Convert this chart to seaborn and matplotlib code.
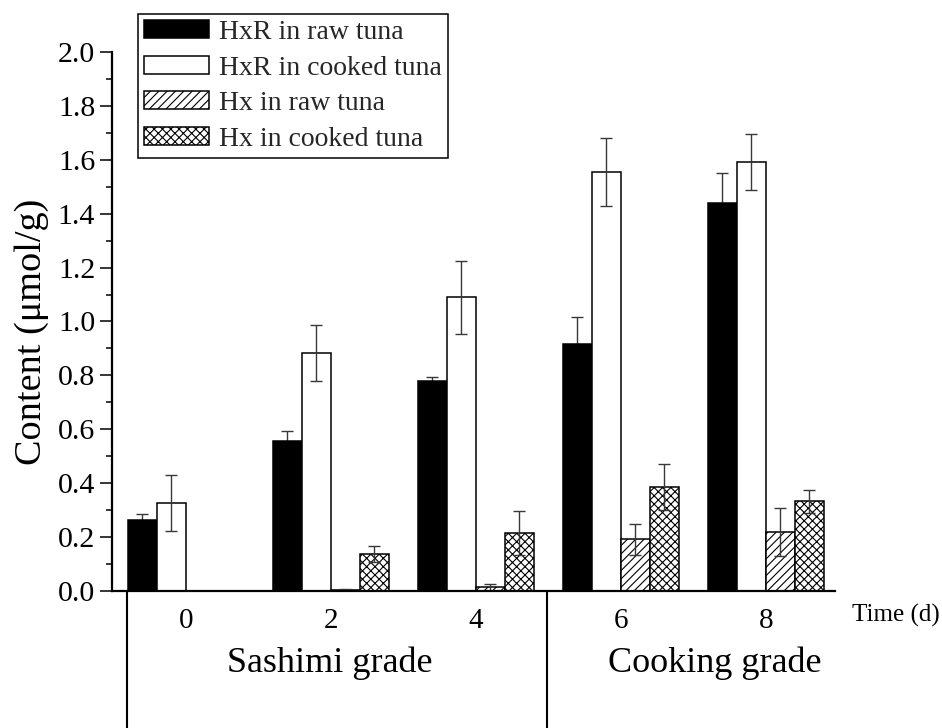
import numpy as np
import pandas as pd
import matplotlib
matplotlib.use("Agg")
import matplotlib.pyplot as plt
import matplotlib.transforms as mtransforms
from matplotlib.ticker import MultipleLocator
from matplotlib.patches import Patch
import seaborn as sns

# ---------------- data ----------------
days = ["0", "2", "4", "6", "8"]
series = ["HxR in raw tuna", "HxR in cooked tuna", "Hx in raw tuna", "Hx in cooked tuna"]
hxr_raw = [0.262, 0.557, 0.779, 0.918, 1.438]
hxr_raw_err = [0.022, 0.036, 0.016, 0.100, 0.113]
hxr_cooked = [0.326, 0.882, 1.090, 1.555, 1.591]
hxr_cooked_err = [0.104, 0.104, 0.136, 0.127, 0.104]
hx_raw = [0.0, 0.005, 0.013, 0.192, 0.219]
hx_raw_err = [np.nan, 0.002, 0.012, 0.057, 0.088]
hx_cooked = [0.0, 0.137, 0.215, 0.387, 0.333]
hx_cooked_err = [np.nan, 0.030, 0.080, 0.085, 0.042]
groups = ["Sashimi grade", "Cooking grade"]

values = [hxr_raw, hxr_cooked, hx_raw, hx_cooked]
errors = [hxr_raw_err, hxr_cooked_err, hx_raw_err, hx_cooked_err]

rows = []
for s, vals, errs in zip(series, values, errors):
    for d, v, e in zip(days, vals, errs):
        rows.append({"Time": d, "Series": s, "Content": v, "Err": e})
df = pd.DataFrame(rows)

# ---------------- style ----------------
sns.set_style("ticks")
plt.rcParams["font.family"] = ["Liberation Serif", "DejaVu Serif"]
plt.rcParams["hatch.linewidth"] = 0.8
plt.rcParams["hatch.color"] = "black"

fig = plt.figure(figsize=(9.42, 7.28), dpi=100)
ax = fig.add_axes([112 / 942, 1 - 591 / 728, 723 / 942, 539 / 728])

fills = ["black", "white", "white", "white"]
hatches = [None, None, "////", "xxxx"]

sns.barplot(data=df, x="Time", y="Content", hue="Series", order=days,
            hue_order=series, palette=fills, errorbar=None, width=0.8,
            saturation=1, edgecolor="black", linewidth=1.1, ax=ax, legend=False)

for i, (cont, h, s, errs) in enumerate(zip(ax.containers, hatches, series, errors)):
    xs, hs = [], []
    for patch in cont.patches:
        if h:
            patch.set_hatch(h)
        patch.set_edgecolor("black")
        patch.set_zorder(2)
        xs.append(patch.get_x() + patch.get_width() / 2)
        hs.append(patch.get_height())
    xs = np.array(xs); hs = np.array(hs); e = np.array(errs, dtype=float)
    ok = ~np.isnan(e)
    z = 1 if fills[i] == "black" else 5
    ax.errorbar(xs[ok], hs[ok], yerr=e[ok], fmt="none", ecolor="#383838",
                elinewidth=1.0, capsize=4.3, capthick=1.0, zorder=z)

# ---------------- axes ----------------
ax.set_ylim(0, 2.0)
ax.set_xlim(-0.51, 4.476)
ax.yaxis.set_major_locator(MultipleLocator(0.2))
ax.yaxis.set_minor_locator(MultipleLocator(0.1))
ax.yaxis.set_major_formatter(matplotlib.ticker.FormatStrFormatter("%.1f"))
ax.tick_params(axis="y", which="major", direction="out", length=8.6, width=1.1,
               labelsize=21.5, pad=3.5, colors="black")
ax.tick_params(axis="y", which="minor", direction="out", length=4.3, width=1.1,
               colors="black")
ax.tick_params(axis="x", length=0, labelsize=21, pad=12, colors="black")
for side in ["top", "right"]:
    ax.spines[side].set_visible(False)
for side in ["left", "bottom"]:
    ax.spines[side].set_linewidth(1.6)
    ax.spines[side].set_color("black")
    ax.spines[side].set_zorder(6)

ax.set_xlabel("")
ax.set_ylabel("Content (μmol/g)", fontsize=27.5, color="black")
ax.yaxis.set_label_coords(-0.087, 0.48)

ax.text(1.0235, -0.046, "Time (d)", transform=ax.transAxes, ha="left",
        va="center", fontsize=18, color="black")

trans = mtransforms.blended_transform_factory(ax.transData, ax.transAxes)
for xd in [-0.407, 2.49]:
    ax.plot([xd, xd], [0, -0.26], transform=trans, color="black", lw=1.5,
            clip_on=False, solid_capstyle="butt")
for g, xc in zip(groups, [0.99, 3.65]):
    ax.text(xc, -0.150, g, transform=trans, ha="center", va="baseline",
            fontsize=26, color="black")

# ---------------- legend ----------------
handles = [Patch(facecolor=f, edgecolor="black", hatch=h, linewidth=1.1)
           for f, h in zip(fills, hatches)]
leg = fig.legend(handles, series, loc="upper left",
                 bbox_to_anchor=(138 / 942, 1 - 14 / 728), fontsize=20,
                 frameon=True, fancybox=False, framealpha=1, edgecolor="black",
                 handlelength=2.35, handleheight=0.62, handletextpad=0.35,
                 labelspacing=0.38, borderpad=0.22, borderaxespad=0)
leg.get_frame().set_linewidth(1.1)

fig.savefig("out.png", dpi=100)
